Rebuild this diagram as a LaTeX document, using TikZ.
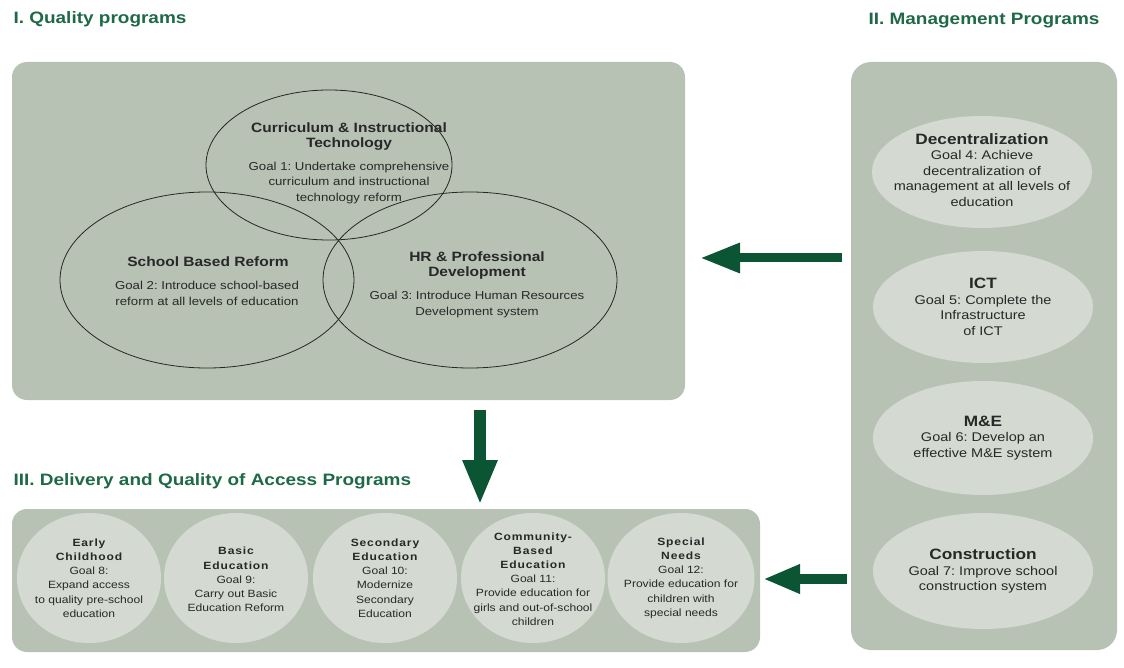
\documentclass[tikz,border=0pt]{standalone}
\usepackage{fontspec}
\setmainfont{Liberation Sans}[FakeStretch=1.15]
\newfontfamily\spaced{Liberation Sans}[FakeStretch=1.15,LetterSpace=8.0]
\usetikzlibrary{shapes.geometric,arrows.meta}
\frenchspacing

\definecolor{panelgray}{RGB}{183,194,180}
\definecolor{bubble}{RGB}{212,218,209}
\definecolor{headgreen}{RGB}{30,105,70}
\definecolor{arrowgreen}{RGB}{12,85,52}
\definecolor{textgray}{RGB}{40,40,40}

\newcommand{\circhead}[1]{{\spaced\bfseries #1}}
\newcommand{\bubblehead}[1]{{\fontsize{15}{16}\selectfont\bfseries #1}}

\begin{document}
\begin{tikzpicture}[x=1pt, y=-1pt,
        panel/.style={rectangle, rounded corners=15pt, fill=panelgray},
        heading/.style={anchor=west, text=headgreen, font=\fontsize{16.5}{19}\selectfont\bfseries},
        venn/.style={ellipse, draw=black!85, line width=0.8pt,
                     minimum width=294pt, minimum height=176pt},
        vtitle/.style={align=center, text=textgray, font=\fontsize{13.5}{15}\selectfont\bfseries},
        vgoal/.style={align=center, text=textgray, font=\fontsize{11.5}{15.5}\selectfont},
        goalbubble/.style={ellipse, fill=bubble, minimum width=220pt, minimum height=112pt},
        bubbletext/.style={align=center, text=textgray, font=\fontsize{12.6}{15.5}\selectfont},
        circ/.style={ellipse, fill=bubble, minimum width=144pt, minimum height=130pt},
        circtext/.style={align=center, text=textgray, font=\fontsize{10.5}{14.2}\selectfont},
        bigarrow/.style={draw=arrowgreen, line width=10pt, -{Triangle[length=40pt, width=28pt]}}
    ]
    \useasboundingbox (0,0) rectangle (1124,668);

    % the three program panels
    \node[panel, minimum width=673pt, minimum height=338pt] (quality) at (348.5,231) {};
    \node[panel, rounded corners=20pt, minimum width=266pt, minimum height=588pt] (mgmt) at (984,356) {};
    \node[panel, minimum width=748pt, minimum height=143pt] (access) at (386,580.5) {};

    % headings
    \node[heading] (qualityH) at (10,19) {I. Quality programs};
    \node[heading, anchor=east] (mgmtH) at (1103,21) {II. Management Programs};
    \node[heading] (accessH) at (10,481) {III. Delivery and Quality of Access Programs};

    % Venn diagram of the quality programs
    \node[venn, minimum width=246pt, minimum height=150pt] (curr) at (329,165) {};
    \node[venn] (school) at (207,280) {};
    \node[venn] (hr) at (470,280) {};

    \node[vtitle] (currT) at (349,136.5) {Curriculum \& Instructional\\Technology};
    \node[vgoal] (currG) at (349,183) {Goal 1: Undertake comprehensive\\curriculum and instructional\\technology reform};
    \node[vtitle] (schoolT) at (208,262) {School Based Reform};
    \node[vgoal] (schoolG) at (207,293.5) {Goal 2: Introduce school-based\\reform at all levels of education};
    \node[vtitle] (hrT) at (477,266) {HR \& Professional\\Development};
    \node[vgoal] (hrG) at (477,304.5) {Goal 3: Introduce Human Resources\\Development system};

    % management goals
    \node[goalbubble] (dec) at (982,172) {};
    \node[bubbletext] (decT) at ([yshift=2pt]dec) {\bubblehead{Decentralization}\\Goal 4: Achieve\\decentralization of\\management at all levels of\\education};
    \node[goalbubble] (ict) at (983,307) {};
    \node[bubbletext] (ictT) at (ict) {\bubblehead{ICT}\\Goal 5: Complete the\\Infrastructure\\of ICT};
    \node[goalbubble, minimum height=114pt] (me) at (983,438) {};
    \node[bubbletext] (meT) at (me) {\bubblehead{M\&E}\\Goal 6: Develop an\\effective M\&E system};
    \node[goalbubble, minimum height=116pt] (con) at (983,571) {};
    \node[bubbletext] (conT) at (con) {\bubblehead{Construction}\\Goal 7: Improve school\\construction system};

    % delivery and access goals
    \node[circ] (early) at (89,578) {};
    \node[circtext] (earlyT) at (early) {\circhead{Early}\\\circhead{Childhood}\\Goal 8:\\Expand access\\to quality pre-school\\education};
    \node[circ] (basic) at (236,578) {};
    \node[circtext] (basicT) at ([yshift=-1.5pt]basic) {\circhead{Basic}\\\circhead{Education}\\Goal 9:\\Carry out Basic\\Education Reform};
    \node[circ] (second) at (385,578) {};
    \node[circtext] (secondT) at (second) {\circhead{Secondary}\\\circhead{Education}\\Goal 10:\\Modernize\\Secondary\\Education};
    \node[circ] (commun) at (533,578) {};
    \node[circtext] (communT) at ([yshift=-1pt]commun) {\circhead{Community-}\\\circhead{Based}\\\circhead{Education}\\Goal 11:\\Provide education for\\girls and out-of-school\\children};
    \node[circ, minimum width=147pt] (special) at (681,578) {};
    \node[circtext] (specialT) at (special) {\circhead{Special}\\\circhead{Needs}\\Goal 12:\\Provide education for\\children with\\special needs};

    % arrows between the panels
    \coordinate (mgmtOut) at (842,258);
    \coordinate (qualityIn) at (700,258);
    \coordinate (qualityOut) at (480,410);
    \coordinate (accessIn) at (480,505);
    \coordinate (mgmtLow) at (847,579);
    \coordinate (accessSide) at (763,579);
    \draw[bigarrow, line width=9pt] (mgmtOut) -- (qualityIn);
    \draw[bigarrow, line width=12pt, -{Triangle[length=45pt, width=32pt]}] (qualityOut) -- (accessIn);
    \draw[bigarrow, -{Triangle[length=37pt, width=27pt]}] (mgmtLow) -- (accessSide);

\end{tikzpicture}
\end{document}
